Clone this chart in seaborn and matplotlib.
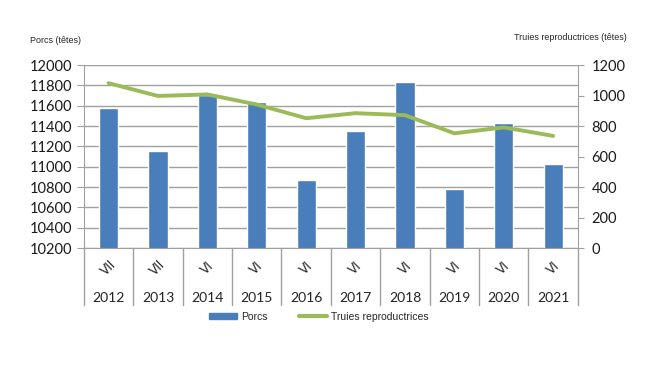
import matplotlib
matplotlib.use('Agg')
import matplotlib.pyplot as plt
import matplotlib.transforms as mtransforms
import numpy as np
import pandas as pd
import seaborn as sns

# Data
years = ['2012', '2013', '2014', '2015', '2016', '2017', '2018', '2019', '2020', '2021']
months = ['VII', 'VII', 'VI', 'VI', 'VI', 'VI', 'VI', 'VI', 'VI', 'VI']
porcs = [11580, 11160, 11710, 11640, 10870, 11350, 11830, 10780, 11430, 11030]
truies = [1082, 998, 1008, 942, 852, 885, 872, 753, 792, 736]

df = pd.DataFrame({'year': years, 'month': months, 'porcs': porcs, 'truies': truies})
df['pos'] = np.arange(len(df))

sns.set_style('white')
plt.rcParams['font.family'] = ['Lato', 'DejaVu Sans']

bar_color = '#4a7ebb'
line_color = '#9bbb59'
grid_color = '#a0a0a0'

fig = plt.figure(figsize=(6.5, 3.66), dpi=100)
ax = fig.add_axes([0.129, 0.322, 0.760, 0.500])

# Porcs bars (left axis)
sns.barplot(data=df, x='pos', y='porcs', color=bar_color, width=0.39,
            saturation=1, ax=ax, zorder=2)
ax.set_ylim(10200, 12000)
ax.set_yticks(np.arange(10200, 12001, 200))
ax.set_xlim(-0.5, len(df) - 0.5)
ax.yaxis.grid(True, color=grid_color, linewidth=1)
ax.set_axisbelow(True)
ax.set_xticks([])
ax.set_xlabel('')
ax.set_ylabel('')
ax.tick_params(axis='y', labelsize=10.5, length=5, color=grid_color, pad=3,
               left=True, labelcolor='#1a1a1a')
for side in ['top', 'right']:
    ax.spines[side].set_visible(False)
for side in ['left', 'bottom']:
    ax.spines[side].set_color(grid_color)

# Truies reproductrices line (right axis)
ax2 = ax.twinx()
sns.lineplot(data=df, x='pos', y='truies', color=line_color, linewidth=2.8, ax=ax2)
ax2.set_ylim(0, 1200)
ax2.set_yticks(np.arange(0, 1201, 200))
ax2.set_xlim(-0.5, len(df) - 0.5)
ax2.set_ylabel('')
ax2.set_xlabel('')
ax2.tick_params(axis='y', labelsize=10.5, length=4, color=grid_color, pad=6,
                right=True, labelcolor='#1a1a1a')
for side in ['top', 'left', 'bottom']:
    ax2.spines[side].set_visible(False)
ax2.spines['right'].set_color(grid_color)

# Category table below the plot
trans = mtransforms.blended_transform_factory(ax.transData, ax.transAxes)
for i, (m, y) in enumerate(zip(months, years)):
    ax.text(i, -0.11, m, transform=trans, rotation=45, ha='center', va='center',
            fontsize=9, color='#222222')
    ax.text(i, -0.27, y, transform=trans, ha='center', va='center',
            fontsize=10, color='#222222')
for i in range(len(years) + 1):
    ax.plot([i - 0.5, i - 0.5], [0, -0.31], transform=trans, color=grid_color,
            linewidth=1, clip_on=False)

# Axis titles
fig.text(0.046, 0.888, 'Porcs (têtes)', fontsize=6.5, family='Liberation Sans',
         va='center', ha='left')
fig.text(0.791, 0.898, 'Truies reproductrices (têtes)', fontsize=6.5,
         family='Liberation Sans', va='center', ha='left')

# Legend
handles = [plt.Rectangle((0, 0), 1, 1, color=bar_color),
           plt.Line2D([0], [0], color=line_color, linewidth=3)]
fig.legend(handles, ['Porcs', 'Truies reproductrices'], loc='center',
           bbox_to_anchor=(0.49, 0.135), ncol=2, frameon=False,
           prop={'family': 'Liberation Sans', 'size': 7.5},
           handlelength=2.7, handleheight=0.6, columnspacing=3.0, handletextpad=0.4)

fig.savefig('out.png', dpi=100)
